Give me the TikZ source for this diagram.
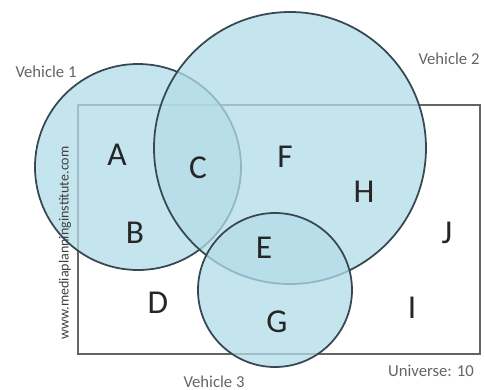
\documentclass[tikz,border=0pt]{standalone}
\usepackage{fontspec}
\setmainfont{Carlito}
\usetikzlibrary{positioning}

\definecolor{vennblue}{RGB}{178,220,232}
\definecolor{venngray}{RGB}{100,100,100}
\definecolor{vennline}{RGB}{55,72,82}

\begin{document}
\begin{tikzpicture}[x=0.02cm, y=-0.02cm,
  region/.style={font=\fontsize{19}{22}\selectfont, text=black!85},
  vlabel/.style={font=\fontsize{9.5}{11}\selectfont, text=venngray},
  circ/.style={draw=vennline, line width=1pt, fill=vennblue, fill opacity=0.75}]
\useasboundingbox (0,0) rectangle (485,390);
% universe
\coordinate (ul) at (78,105);
\coordinate (lr) at (480,354);
\draw[venngray, line width=0.9pt] (ul) rectangle (lr);
% vehicles
\coordinate (v1) at (138,167);
\coordinate (v2) at (290,148);
\coordinate (v3) at (275,290);
\draw[circ] (v1) circle (103);
\draw[circ] (v2) circle (136);
\draw[circ] (v3) circle (77);
% regions
\node[region] (A) at (117,155) {A};
\node[region] (B) at (135,233) {B};
\node[region] (C) at (198,168) {C};
\node[region] (D) at (158,303) {D};
\node[region] (E) at (264,248) {E};
\node[region] (F) at (285,157) {F};
\node[region] (G) at (277,322) {G};
\node[region] (H) at (364,192) {H};
\node[region] (I) at (412,308) {I};
\node[region] (J) at (447,233) {J};
% labels
\node[vlabel] (veh1) at (46,72) {Vehicle 1};
\node[vlabel] (veh2) at (449,59) {Vehicle 2};
\node[vlabel] (veh3) at (214,382) {Vehicle 3};
\node[vlabel] (univ) at (431,371) {Universe: 10};
\node[rotate=90, font=\fontsize{8}{9}\selectfont, text=black!75] (site) at (65,243) {www.mediaplanninginstitute.com};
\end{tikzpicture}
\end{document}
